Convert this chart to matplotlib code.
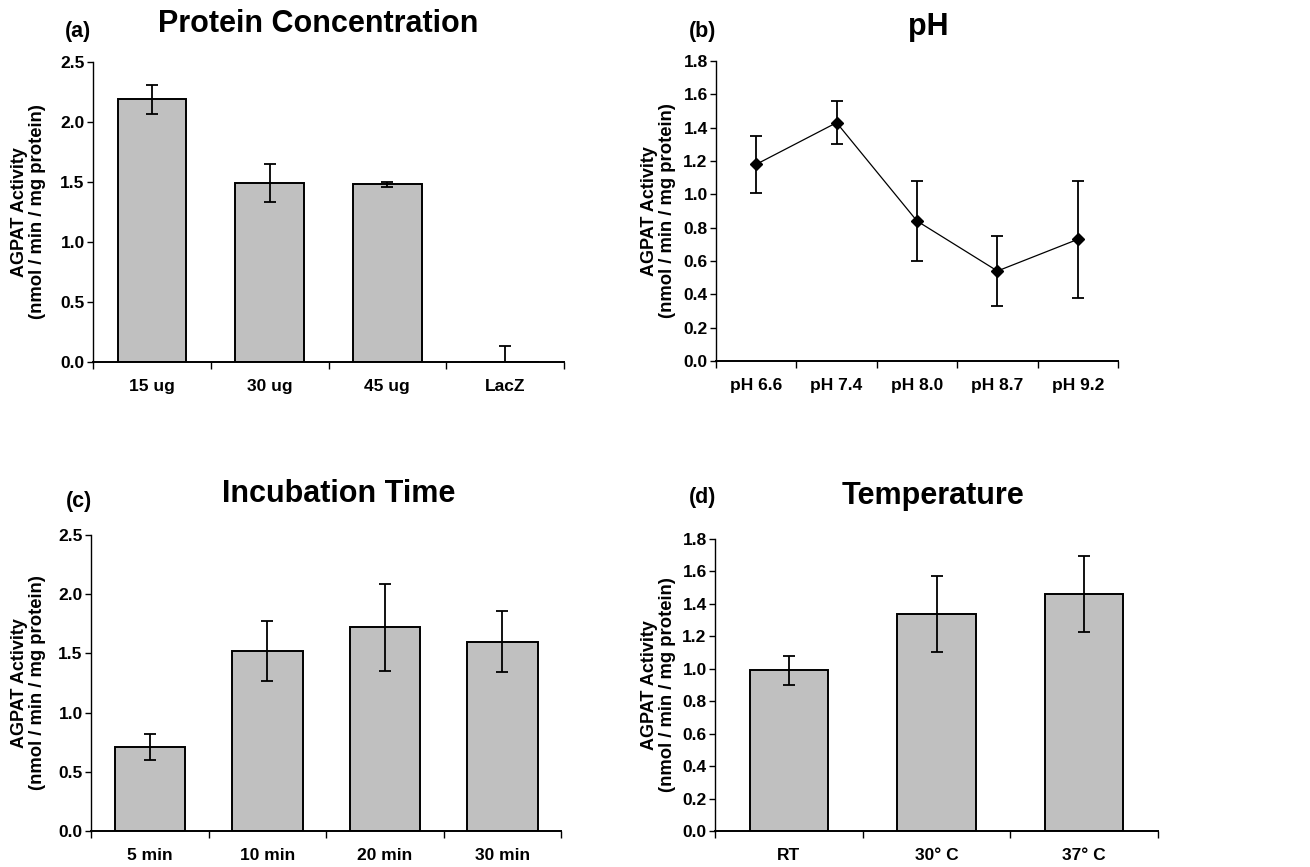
import matplotlib
matplotlib.use('Agg')
import matplotlib.pyplot as plt
import numpy as np
from matplotlib.ticker import FixedLocator, FormatStrFormatter

# Protein concentration (a)
prot_cats = ['15 ug', '30 ug', '45 ug', 'LacZ']
prot_vals = [2.19, 1.49, 1.48, 0.0]
prot_err = [0.12, 0.16, 0.02, 0.13]

# pH (b)
ph_cats = ['pH 6.6', 'pH 7.4', 'pH 8.0', 'pH 8.7', 'pH 9.2']
ph_vals = [1.18, 1.43, 0.84, 0.54, 0.73]
ph_err = [0.17, 0.13, 0.24, 0.21, 0.35]

# Incubation time (c)
time_cats = ['5 min', '10 min', '20 min', '30 min']
time_vals = [0.71, 1.52, 1.72, 1.60]
time_err = [0.11, 0.25, 0.37, 0.26]

# Temperature (d)
temp_cats = ['RT', '30\u00b0 C', '37\u00b0 C']
temp_vals = [0.99, 1.34, 1.46]
temp_err = [0.09, 0.235, 0.235]

W, H = 1310, 867
plt.rcParams['font.family'] = ['Liberation Sans', 'DejaVu Sans']

fig = plt.figure(figsize=(W / 100, H / 100), dpi=100)


def px_rect(x0, y_bot, x1, y_top):
    return [x0 / W, 1 - y_bot / H, (x1 - x0) / W, (y_bot - y_top) / H]


def style_axes(ax, cats, ymax, ystep):
    n = len(cats)
    ax.set_xlim(0, n)
    ax.set_ylim(0, ymax)
    for s in ['top', 'right']:
        ax.spines[s].set_visible(False)
    ax.spines['left'].set_linewidth(1.0)
    ax.spines['bottom'].set_linewidth(1.4)
    # Excel style: ticks between categories, labels centred
    ax.xaxis.set_major_locator(FixedLocator(np.arange(n + 1)))
    ax.xaxis.set_minor_locator(FixedLocator(np.arange(n) + 0.5))
    ax.set_xticklabels([])
    ax.set_xticklabels(cats, minor=True)
    ax.tick_params(axis='x', which='major', direction='out', length=5, width=1.0)
    ax.tick_params(axis='x', which='minor', length=0, pad=12)
    ax.set_yticks(np.arange(0, ymax + 1e-9, ystep))
    ax.yaxis.set_major_formatter(FormatStrFormatter('%.1f'))
    ax.tick_params(axis='y', direction='out', length=4, width=1.0, pad=2)
    for lab in ax.get_xticklabels(minor=True) + ax.get_yticklabels():
        lab.set_fontweight('bold')
        lab.set_fontsize(12.5)


def add_labels(ax, rect, off1, off2, title, tx, ty, tag, lx, ly):
    x0 = rect[0] * W
    yc = (1 - (rect[1] + rect[3] / 2)) * H
    fig.text((x0 + off1) / W, 1 - yc / H, 'AGPAT Activity', rotation=90,
             ha='center', va='center', fontsize=13, fontweight='bold')
    fig.text((x0 + off2) / W, 1 - yc / H, '(nmol / min / mg protein)', rotation=90,
             ha='center', va='center', fontsize=13.3, fontweight='bold')
    fig.text(tx / W, 1 - ty / H, title, ha='center', va='center',
             fontsize=22, fontweight='bold')
    fig.text(lx / W, 1 - ly / H, tag, ha='center', va='center',
             fontsize=15.5, fontweight='bold')


def bar_panel(rect, cats, vals, errs, ymax, ystep, width):
    ax = fig.add_axes(rect)
    x = np.arange(len(cats)) + 0.5
    ax.bar(x, vals, width=width, color='#c0c0c0', edgecolor='black', linewidth=1.4, zorder=2)
    ax.errorbar(x, vals, yerr=errs, fmt='none', ecolor='black', elinewidth=1.3,
                capsize=4, capthick=1.3, zorder=3)
    style_axes(ax, cats, ymax, ystep)
    return ax


# (a) protein concentration
ra = px_rect(93, 362, 564, 62)
ax_a = bar_panel(ra, prot_cats, prot_vals, prot_err, 2.5, 0.5, 0.58)
add_labels(ax_a, ra, -73, -55, 'Protein Concentration', 318, 24, '(a)', 78, 31)

# (b) pH
rb = px_rect(716, 361, 1118, 61)
ax_b = fig.add_axes(rb)
xb = np.arange(len(ph_cats)) + 0.5
ax_b.errorbar(xb, ph_vals, yerr=ph_err, fmt='D-', color='black', ms=6.5, lw=0.9,
              elinewidth=1.3, capsize=4, capthick=1.3)
style_axes(ax_b, ph_cats, 1.8, 0.2)
add_labels(ax_b, rb, -66, -48, 'pH', 928, 27, '(b)', 703, 31)

# (c) incubation time
rc = px_rect(91, 831, 561, 535)
ax_c = bar_panel(rc, time_cats, time_vals, time_err, 2.5, 0.5, 0.6)
add_labels(ax_c, rc, -71, -53, 'Incubation Time', 339, 494, '(c)', 79, 501)

# (d) temperature
rd = px_rect(715, 831, 1158, 539)
ax_d = bar_panel(rd, temp_cats, temp_vals, temp_err, 1.8, 0.2, 0.53)
add_labels(ax_d, rd, -65, -47, 'Temperature', 933, 496, '(d)', 703, 498)

fig.savefig('out.png', dpi=100)
